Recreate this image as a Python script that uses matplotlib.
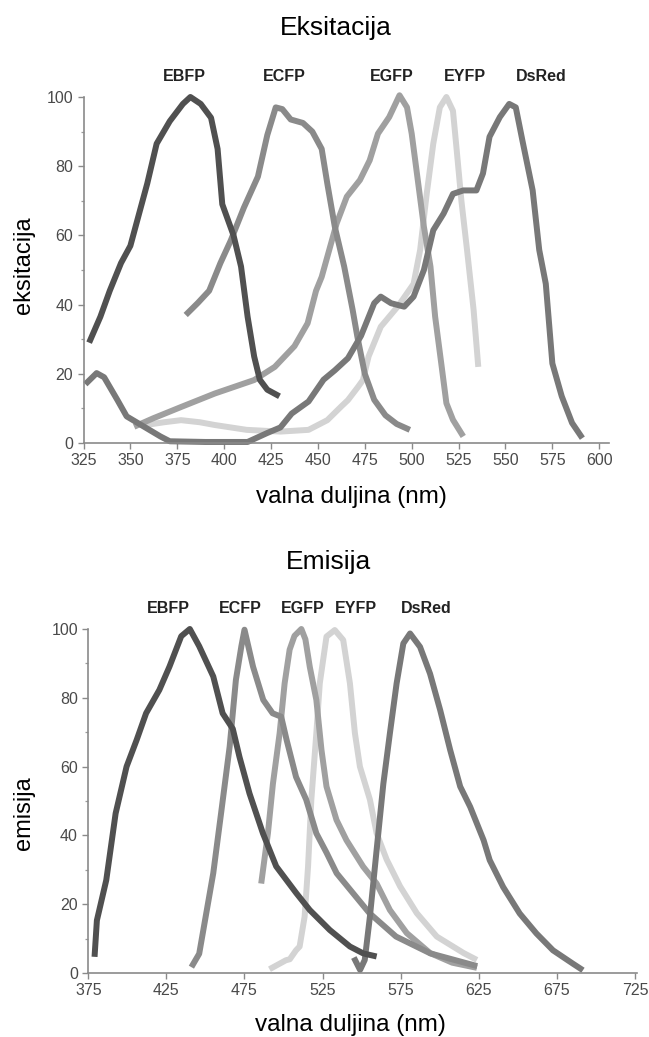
import matplotlib
matplotlib.use("Agg")
import matplotlib.pyplot as plt
from matplotlib.ticker import MultipleLocator

# ---------------- data ----------------
ex_names = ["EBFP", "ECFP", "EGFP", "EYFP", "DsRed"]

ex_ebfp_x = [328, 334, 339, 345, 350, 354, 359, 364, 371, 378, 382, 387.5, 393, 396.5, 399, 405, 409, 412.5, 416, 419, 423, 429.5]
ex_ebfp_y = [29, 36.5, 44, 52, 57, 65, 75, 86.5, 93, 98, 100, 98, 94, 85, 69, 60, 51, 36.5, 25, 18.3, 15.4, 13.5]

ex_ecfp_x = [379.5, 386, 392, 398, 403.5, 410.5, 418, 423, 427.5, 431, 435.5, 442, 447, 452, 455, 459, 464, 468.5, 471, 475, 480, 486, 492, 499]
ex_ecfp_y = [37, 40.5, 44, 52, 58.5, 68, 77, 89, 97, 96.5, 93.5, 92.5, 90, 85, 75, 62.5, 51, 38.5, 30.8, 20, 12.5, 8, 5.5, 3.8]

ex_egfp_x = [352, 362, 377, 395, 416, 427, 437.5, 444.5, 449, 452, 460, 465.4, 472.4, 477.6, 482, 488, 493.5, 497.5, 500, 503, 506.5, 510, 512.5, 516, 518.5, 522, 527.5]
ex_egfp_y = [4.7, 7.1, 10.4, 14.3, 18.2, 22, 28, 34.6, 44, 48, 63.5, 71.2, 76, 81.7, 89.4, 94.2, 100.5, 97, 89.4, 77, 62.5, 51, 36.5, 22, 11.5, 6.7, 1.9]

ex_eyfp_x = [357, 368, 377, 387, 395, 412, 430, 445, 455, 462.5, 466, 471.5, 474, 477, 483.5, 492.5, 501, 504.5, 508, 511.5, 515, 518.5, 522, 524, 526.5, 529.5, 533, 535.5]
ex_eyfp_y = [5.1, 6.0, 6.6, 6.0, 5.2, 3.8, 3.3, 3.8, 6.6, 10.6, 12.4, 16.3, 18.2, 25, 33.6, 39.4, 46, 55.8, 72, 86.5, 97, 100, 96, 84.6, 70, 55.8, 38.5, 22]

ex_dsred_x = [326, 332, 336, 343, 348, 357, 366, 371, 390, 412.5, 423, 430, 436, 445, 453, 459, 466, 473, 480, 483.5, 489, 496, 501, 506.5, 511.5, 517, 522, 527.5, 534.5, 538, 541.5, 547, 552, 555.5, 559, 564.5, 568, 571.5, 575, 580, 585.5, 591]
ex_dsred_y = [17, 20.2, 19, 12.5, 7.7, 4.8, 1.9, 0.5, 0.3, 0.3, 2.9, 4.5, 8.5, 12, 18.3, 21, 24.5, 31, 40.4, 42.3, 40.4, 39.4, 42.3, 50, 61.5, 66.3, 72, 73, 73, 77.9, 88.5, 94.2, 98, 97, 87.5, 73, 55.8, 46, 23, 13.5, 5.8, 1.4]

em_ebfp_x = [379, 380.5, 386.5, 392.5, 399.5, 406, 412, 420.5, 427, 434.5, 440, 446, 455, 461, 467.5, 471.8, 478.2, 486.8, 495.3, 508.2, 516.8, 529.6, 542.5, 551, 559.6]
em_ebfp_y = [4.7, 15.3, 27, 46.4, 60, 67.8, 75.5, 82.3, 89.1, 97.9, 100, 95, 86.2, 75.5, 71, 62.8, 52.2, 40.6, 31, 23.2, 18.3, 12.5, 7.7, 5.7, 4.8]

em_ecfp_x = [441, 446, 450.5, 455, 460, 465.5, 469.5, 473, 475, 480.5, 487, 493, 498.5, 502, 508, 514.5, 521, 527.5, 534, 544.5, 555, 572, 594, 624]
em_ecfp_y = [1.7, 5.6, 17.3, 29, 46.4, 65.8, 85.2, 95, 99.8, 89, 79.4, 75.5, 74.5, 67.7, 57, 50.4, 40.6, 35, 29, 23.2, 17.4, 10.6, 5.7, 2.0]

em_egfp_x = [485.7, 490, 493.2, 497.5, 500.7, 503.9, 507, 511.4, 514, 516.8, 521, 524.3, 527.5, 533.9, 540.3, 551, 559.6, 568.1, 578.9, 593.8, 608, 623.8]
em_egfp_y = [26, 40.6, 55, 69.7, 84.2, 94, 98, 100, 97, 89, 79.4, 64.8, 54.2, 44.5, 38.6, 30.9, 26, 18.3, 11.6, 5.8, 3, 1.5]

em_eyfp_x = [491, 501.5, 504, 508, 510.3, 513.5, 515.7, 517.8, 521, 523.2, 527.5, 532.8, 538.2, 542.5, 545.7, 548.9, 555.3, 559.6, 566, 574.6, 585.3, 598.1, 615.3, 623.8]
em_eyfp_y = [1.1, 3.7, 4, 6.6, 7.7, 16.4, 31, 50.4, 69.7, 84.2, 97.8, 99.7, 96.8, 84.2, 69.7, 60, 50.4, 40.6, 33, 25.2, 17.4, 10.6, 5.8, 3.8]

em_dsred_x = [545, 549, 552, 555.3, 559.6, 563.9, 568.1, 572.4, 576.7, 581, 587.4, 593.8, 600.3, 606.7, 613.1, 619.5, 628.1, 632, 640.6, 651.2, 661.9, 672.5, 685.3, 691.7]
em_dsred_y = [4.5, 0.9, 3.8, 16.4, 35.8, 55, 69.7, 84.2, 95.8, 98.7, 94.8, 87, 76.4, 64.8, 54.2, 48.3, 38.6, 32.8, 25, 17.3, 11.5, 6.6, 2.7, 0.8]

ex_label_x = [378.7, 432, 489.3, 528.4, 569]
em_label_x = [426.2, 472.2, 512.2, 546.5, 591.2]

ex_xticks = [325, 350, 375, 400, 425, 450, 475, 500, 525, 550, 575, 600]
em_xticks = [375, 425, 475, 525, 575, 625, 675, 725]
yticks = [0, 20, 40, 60, 80, 100]

titles = ["Eksitacija", "Emisija"]
xlabel = "valna duljina (nm)"
ylabels = ["eksitacija", "emisija"]

# ---------------- style ----------------
colors = {"EBFP": "#505050", "ECFP": "#8a8a8a", "EGFP": "#a0a0a0",
          "EYFP": "#d3d3d3", "DsRed": "#787878"}
draw_order = ["EYFP", "EGFP", "ECFP", "DsRed", "EBFP"]

W, H = 649, 1037
fig = plt.figure(figsize=(W / 100, H / 100), dpi=100)
fig.patch.set_facecolor("white")

sans = ["Liberation Sans", "DejaVu Sans"]


def make_axes(px_left, px_right, px_top, px_bottom):
    return fig.add_axes([px_left / W, 1 - px_bottom / H,
                         (px_right - px_left) / W, (px_bottom - px_top) / H])


def style_axes(ax, xticks):
    for s in ["top", "right"]:
        ax.spines[s].set_visible(False)
    for s in ["left", "bottom"]:
        ax.spines[s].set_color("#8a8a8a")
        ax.spines[s].set_linewidth(1.2)
    ax.set_xticks(xticks)
    ax.set_yticks(yticks)
    ax.yaxis.set_minor_locator(MultipleLocator(10))
    ax.tick_params(axis="both", which="major", direction="out", length=4.5,
                   width=1.0, color="#8a8a8a", labelcolor="#4a4a4a",
                   labelsize=11.5, pad=3)
    ax.tick_params(axis="y", which="minor", direction="out", length=2.5,
                   width=0.9, color="#9a9a9a")
    for lab in ax.get_xticklabels() + ax.get_yticklabels():
        lab.set_family(sans)
    ax.set_ylim(0, 100)


def draw(ax, data, label_x, label_y):
    for name in draw_order:
        xs, ys = data[name]
        ax.plot(xs, ys, color=colors[name], lw=4.3, clip_on=False,
                solid_joinstyle="round", solid_capstyle="butt")
    for name, lx in zip(ex_names, label_x):
        ax.text(lx, label_y, name, ha="center", va="center", fontsize=11.5,
                fontweight="bold", family=sans, color="#222222",
                clip_on=False)


# top: excitation
ax1 = make_axes(83.5, 609, 97, 443)
style_axes(ax1, ex_xticks)
ax1.set_xlim(325, 605.2)
ex_data = {"EBFP": (ex_ebfp_x, ex_ebfp_y), "ECFP": (ex_ecfp_x, ex_ecfp_y),
           "EGFP": (ex_egfp_x, ex_egfp_y), "EYFP": (ex_eyfp_x, ex_eyfp_y),
           "DsRed": (ex_dsred_x, ex_dsred_y)}
draw(ax1, ex_data, ex_label_x, 106)

# bottom: emission
ax2 = make_axes(88.3, 637, 629, 973)
style_axes(ax2, em_xticks)
ax2.set_xlim(375, 726.3)
em_data = {"EBFP": (em_ebfp_x, em_ebfp_y), "ECFP": (em_ecfp_x, em_ecfp_y),
           "EGFP": (em_egfp_x, em_egfp_y), "EYFP": (em_eyfp_x, em_eyfp_y),
           "DsRed": (em_dsred_x, em_dsred_y)}
draw(ax2, em_data, em_label_x, 106)

# texts
fig.text(336 / W, 1 - 28 / H, titles[0], ha="center", va="center",
         fontsize=19, family=sans, color="black")
fig.text(351 / W, 1 - 497 / H, xlabel, ha="center", va="center",
         fontsize=17.5, family=sans, color="black")
fig.text(328.5 / W, 1 - 562 / H, titles[1], ha="center", va="center",
         fontsize=19, family=sans, color="black")
fig.text(350 / W, 1 - 1025 / H, xlabel, ha="center", va="center",
         fontsize=17.5, family=sans, color="black")
fig.text(24 / W, 1 - 265 / H, ylabels[0], ha="center", va="center",
         rotation=90, fontsize=17, family=sans, color="black")
fig.text(24 / W, 1 - 813 / H, ylabels[1], ha="center", va="center",
         rotation=90, fontsize=17, family=sans, color="black")

fig.savefig("out.png", dpi=100, facecolor="white")
